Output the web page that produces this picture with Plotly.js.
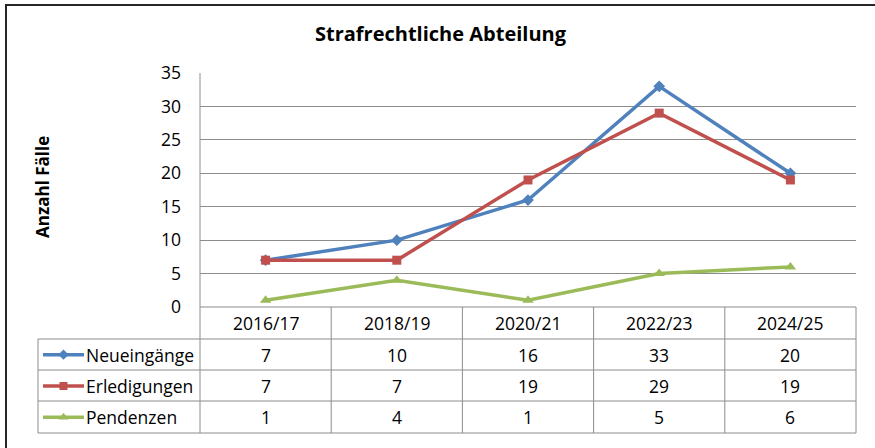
<!DOCTYPE html>
<html><head><meta charset="utf-8">
<script src="https://cdn.plot.ly/plotly-3.0.1.min.js"></script>
<style>html,body{margin:0;padding:0;background:#fff;}#chart{width:875px;height:448px;}</style>
</head><body><div id="chart"></div>
<script>
const categories = ["2016/17","2018/19","2020/21","2022/23","2024/25"];
const seriesNames = ["Neueingänge","Erledigungen","Pendenzen"];
const neueingaenge = [7,10,16,33,20];
const erledigungen = [7,7,19,29,19];
const pendenzen = [1,4,1,5,6];
const colors = ["#4F81BD","#C0504D","#9BBB59"];
const symbols = ["diamond","square","triangle-up"];
const msizes = [9,9,10];
const title = "Strafrechtliche Abteilung";
const yTitle = "Anzahl Fälle";

const W = 875, H = 448;
const px = x => x / W;
const py = y => (H - y) / H;
const FONT = "'Open Sans', sans-serif";
const FS = 17.5;
const GRID = "#8C8C8C";

const series = [neueingaenge, erledigungen, pendenzen];
const xIdx = categories.map((c, i) => i);

const traces = [];
series.forEach((vals, s) => {
  traces.push({
    x: xIdx, y: vals, type: "scatter", mode: "lines+markers",
    name: seriesNames[s], xaxis: "x", yaxis: "y",
    line: {color: colors[s], width: 3.5},
    marker: {symbol: symbols[s], size: msizes[s], color: colors[s]},
    cliponaxis: false, hoverinfo: "skip", showlegend: false
  });
  traces.push({
    x: [5, 46], y: [2 - s, 2 - s], type: "scatter", mode: "lines",
    xaxis: "x2", yaxis: "y2", line: {color: colors[s], width: 3.5},
    hoverinfo: "skip", showlegend: false
  });
  traces.push({
    x: [25.5], y: [2 - s], type: "scatter", mode: "markers",
    xaxis: "x2", yaxis: "y2",
    marker: {symbol: symbols[s], size: msizes[s] - 1, color: colors[s]},
    hoverinfo: "skip", showlegend: false
  });
});

const shapes = [];
const line = (x0, y0, x1, y1, color, width) => shapes.push({
  type: "line", xref: "paper", yref: "paper",
  x0: px(x0), y0: py(y0), x1: px(x1), y1: py(y1),
  line: {color: color || GRID, width: width || 1}
});
const tL = 38, pL = 200, pR = 856, rowsY = [307, 339, 370, 401, 433];
line(pL, 307, pR, 307);
for (let r = 1; r < rowsY.length; r++) line(tL, rowsY[r], pR, rowsY[r]);
line(tL, 339, tL, 433);
line(pL, 73, pL, 433);
const colW = (pR - pL) / categories.length;
for (let k = 1; k <= categories.length; k++) line(pL + colW * k, 307, pL + colW * k, 433);
shapes.push({type: "rect", xref: "paper", yref: "paper",
  x0: px(6), y0: py(5), x1: px(900), y1: py(470),
  line: {color: "#262626", width: 2}});

const annotations = [];
const rowCenters = [323, 354.5, 385.5, 417];
categories.forEach((c, i) => {
  annotations.push({x: i, xref: "x", y: py(rowCenters[0]), yref: "paper",
    text: c, showarrow: false, font: {family: FONT, size: FS, color: "#000"},
    xanchor: "center", yanchor: "middle"});
  series.forEach((vals, s) => {
    annotations.push({x: i, xref: "x", y: py(rowCenters[s + 1]), yref: "paper",
      text: String(vals[i]), showarrow: false, font: {family: FONT, size: FS, color: "#000"},
      xanchor: "center", yanchor: "middle"});
  });
});
seriesNames.forEach((n, s) => {
  annotations.push({x: px(84), xref: "paper", y: py(rowCenters[s + 1]), yref: "paper",
    text: n, showarrow: false, font: {family: FONT, size: FS, color: "#000"},
    xanchor: "left", yanchor: "middle"});
});
annotations.push({x: px(441), xref: "paper", y: py(33), yref: "paper",
  text: "<b>" + title + "</b>", showarrow: false,
  font: {family: FONT, size: 20, color: "#000"}, xanchor: "center", yanchor: "middle"});
annotations.push({x: px(42), xref: "paper", y: py(187), yref: "paper",
  text: "<b>" + yTitle + "</b>", showarrow: false, textangle: -90,
  font: {family: FONT, size: 17, color: "#000"}, xanchor: "center", yanchor: "middle"});

const layout = {
  width: W, height: H,
  margin: {l: 0, r: 0, t: 0, b: 0},
  paper_bgcolor: "#fff", plot_bgcolor: "#fff",
  showlegend: false,
  xaxis: {domain: [px(pL), px(pR)], range: [-0.5, categories.length - 0.5],
    showticklabels: false, showgrid: false, zeroline: false, ticks: "", showline: false, fixedrange: true},
  yaxis: {domain: [py(307), py(73)], range: [0, 35], dtick: 5, tick0: 0,
    showgrid: true, gridcolor: GRID, gridwidth: 1, zeroline: false, showline: false,
    ticks: "", ticklabelstandoff: 18,
    tickfont: {family: FONT, size: FS, color: "#000"}, fixedrange: true},
  xaxis2: {domain: [px(tL), px(pL)], range: [0, pL - tL], visible: false, fixedrange: true, anchor: "y2"},
  yaxis2: {domain: [py(433), py(339)], range: [-0.5, 2.5], visible: false, fixedrange: true, anchor: "x2"},
  shapes: shapes,
  annotations: annotations
};
Plotly.newPlot("chart", traces, layout, {staticPlot: true, displayModeBar: false});
</script></body></html>
